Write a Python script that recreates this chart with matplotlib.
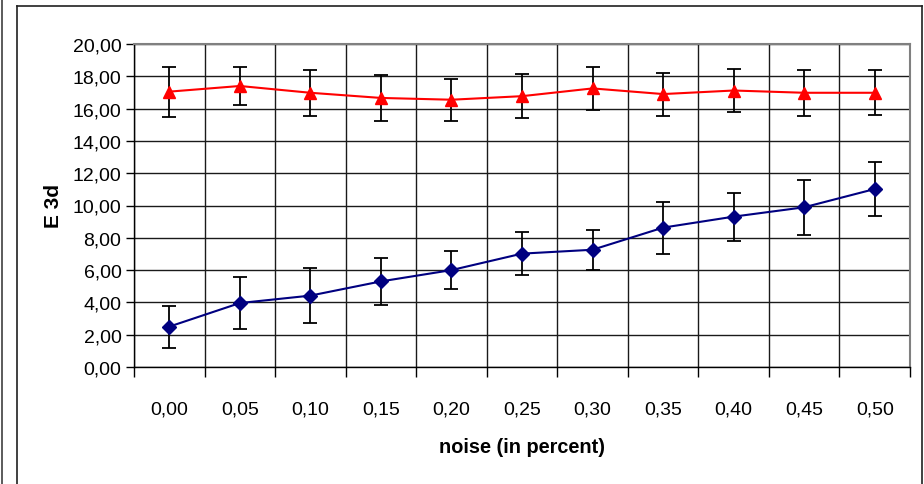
#! /usr/bin/env python3
#
# E 3d vs noise, Excel-style line chart with error bars
import numpy as np
import matplotlib
matplotlib.use('Agg')
import matplotlib.pyplot as plt
from matplotlib.lines import Line2D
from matplotlib.ticker import FuncFormatter, FixedLocator

plt.rcParams['font.family'] = ['Liberation Sans', 'DejaVu Sans']

noise = ['0,00', '0,05', '0,10', '0,15', '0,20', '0,25', '0,30', '0,35', '0,40', '0,45', '0,50']
red_vals = [17.05, 17.4, 16.98, 16.66, 16.55, 16.77, 17.25, 16.9, 17.12, 16.98, 16.98]
red_err = [1.55, 1.2, 1.43, 1.44, 1.31, 1.37, 1.33, 1.33, 1.32, 1.43, 1.38]
blue_vals = [2.5, 3.96, 4.42, 5.3, 6.0, 7.02, 7.26, 8.63, 9.31, 9.89, 11.02]
blue_err = [1.3, 1.63, 1.72, 1.44, 1.2, 1.33, 1.25, 1.61, 1.49, 1.7, 1.67]

W, H = 924, 485
fig = plt.figure(figsize=(W / 100, H / 100), dpi=100)

# outer frame lines (in pixels)
def px_line(x0, y0, x1, y1, **kw):
    fig.add_artist(Line2D([x0 / W, x1 / W], [1 - y0 / H, 1 - y1 / H],
                          transform=fig.transFigure, **kw))

px_line(2, 0, 2, H, color='#404040', lw=1.2)
px_line(17, 7, 17, H, color='#202020', lw=1.2)
px_line(17, 7, 922, 7, color='#202020', lw=1.2)
px_line(922, 7, 922, H, color='#202020', lw=1.2)

left, right, top, bottom = 134, 910, 45, 368
ax = fig.add_axes([left / W, 1 - bottom / H, (right - left) / W, (bottom - top) / H])

x = np.arange(len(noise))
ax.errorbar(x, red_vals, yerr=red_err, fmt='none', ecolor='black', elinewidth=1.3,
            capsize=5, capthick=1.3, zorder=3)
ax.errorbar(x, blue_vals, yerr=blue_err, fmt='none', ecolor='black', elinewidth=1.3,
            capsize=5, capthick=1.3, zorder=3)
ax.plot(x, red_vals, color='#ff0000', lw=1.5, marker='^', markersize=9,
        markeredgecolor='#ff0000', zorder=4)
ax.plot(x, blue_vals, color='#000080', lw=1.5, marker='D', markersize=7,
        markeredgecolor='#000080', zorder=4)

ax.set_xlim(-0.5, len(noise) - 0.5)
ax.set_ylim(0, 20)

ax.set_xticks(x)
ax.set_xticklabels(noise)
ax.xaxis.set_minor_locator(FixedLocator(np.arange(-0.5, len(noise), 1.0)))
ax.tick_params(axis='x', which='major', length=0, pad=24, labelsize=14)
ax.tick_params(axis='x', which='minor', length=7, width=1, direction='out')
ax.set_yticks(np.arange(0, 21, 2))
ax.yaxis.set_major_formatter(FuncFormatter(lambda v, p: f'{v:.2f}'.replace('.', ',')))
ax.tick_params(axis='y', length=6, width=1, direction='out', pad=3, labelsize=14)

ax.grid(axis='y', which='major', color='#1a1a1a', lw=1)
ax.grid(axis='x', which='minor', color='#1a1a1a', lw=1)
ax.set_axisbelow(True)

for s in ['top', 'right']:
    ax.spines[s].set_color('#808080')
    ax.spines[s].set_linewidth(1.5)
for s in ['left', 'bottom']:
    ax.spines[s].set_color('black')
    ax.spines[s].set_linewidth(1)

ax.set_ylabel('E 3d', fontsize=15, fontweight='bold', labelpad=7)
ax.set_xlabel('noise (in percent)', fontsize=14.3, fontweight='bold', labelpad=14)

fig.savefig('out.png', dpi=100)
